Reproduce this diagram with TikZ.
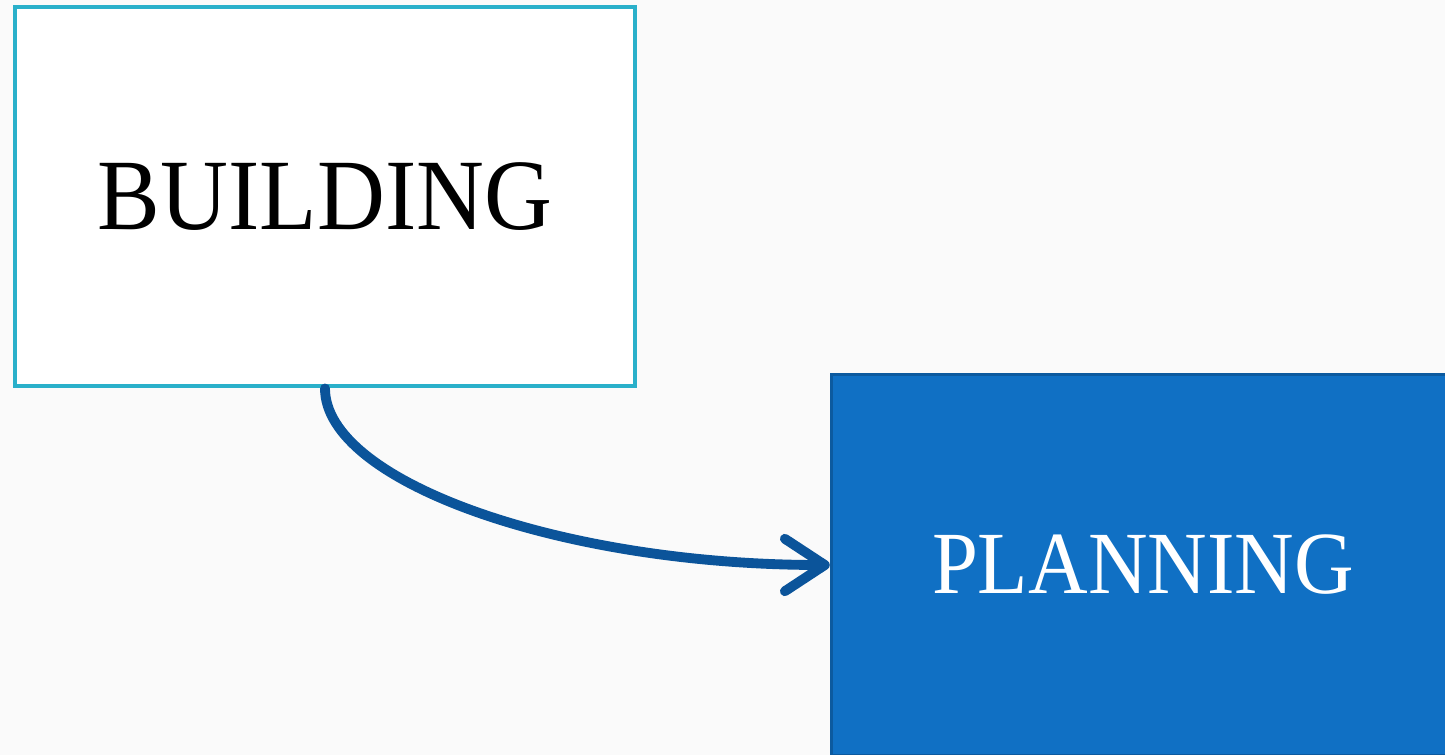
\documentclass[tikz,border=0pt]{standalone}
\usepackage{fontspec}
\usepackage{xcolor}
\usepackage{tikz}
\usetikzlibrary{arrows.meta, positioning, calc}
\newfontfamily\boxfont[FakeStretch=0.93]{Liberation Serif}
\definecolor{lightbg}{HTML}{FAFAFA}
\definecolor{tealborder}{HTML}{2AB0CA}
\definecolor{planfill}{HTML}{1070C4}
\definecolor{planborder}{HTML}{0C5A9F}
\definecolor{arrowblue}{HTML}{0B549A}

\begin{document}
\begin{tikzpicture}[>=Latex]
        \tikzstyle{buildbox} = [rectangle, draw=tealborder, fill=white, minimum width=12.4cm, minimum height=7.58cm, text centered, line width=2.8pt, inner sep=0pt]
        \tikzstyle{planbox} = [rectangle, draw=planborder, fill=planfill, text=white, minimum width=12.46cm, minimum height=7.62cm, text centered, line width=2pt, inner sep=0pt]

        \fill [lightbg] (0,0) rectangle (28.9,-15.1);
        \useasboundingbox (0,0) rectangle (28.9,-15.1);
        \begin{scope}
        \clip (0,0) rectangle (28.9,-15.1);

        \node [buildbox] (building) at (6.5,-3.93) {\boxfont\fontsize{57.5}{60}\selectfont BUILDING};
        \node [planbox] (planning) at (22.86,-11.3) {\boxfont\fontsize{50.5}{54}\selectfont PLANNING};

        \path [draw, -{Straight Barb[length=0.8cm, width=1.05cm, round]}, line width=5.6pt, color=arrowblue, line cap=round]
            (building.south) .. controls +(0,-1.85) and +(-5.4,0) .. (planning.west);
        \end{scope}
    \end{tikzpicture}
\end{document}
